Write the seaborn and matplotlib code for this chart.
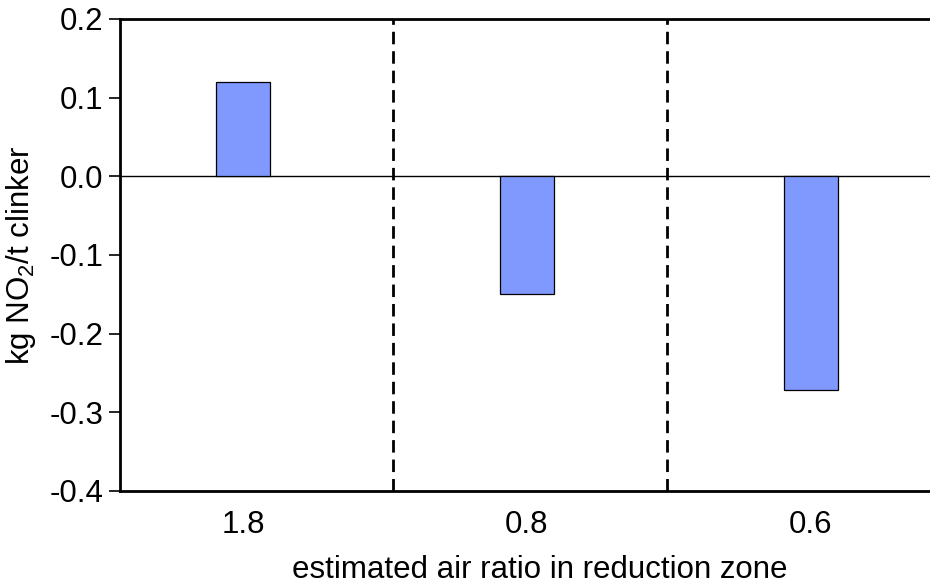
import matplotlib
matplotlib.use("Agg")
import matplotlib.pyplot as plt
import seaborn as sns
import pandas as pd
from matplotlib.ticker import FormatStrFormatter

categories = ["1.8", "0.8", "0.6"]
values = [0.12, -0.15, -0.272]
yticks = [-0.4, -0.3, -0.2, -0.1, 0.0, 0.1, 0.2]
dividers = [0.528, 1.493]

sns.set_theme(style="white")
plt.rcParams['font.family'] = ['Liberation Sans', 'DejaVu Sans']
plt.rcParams['mathtext.fontset'] = 'custom'
plt.rcParams['mathtext.rm'] = 'Liberation Sans'
plt.rcParams['mathtext.it'] = 'Liberation Sans:italic'
plt.rcParams['axes.unicode_minus'] = False
plt.rcParams['text.color'] = 'black'
plt.rcParams['axes.labelcolor'] = 'black'
plt.rcParams['xtick.color'] = 'black'
plt.rcParams['ytick.color'] = 'black'

df = pd.DataFrame({"ratio": categories, "value": values})

fig = plt.figure(figsize=(9.3, 5.88), dpi=100)
ax = fig.add_axes([0.129, 0.165, 0.871, 0.803])

sns.barplot(data=df, x="ratio", y="value", order=categories, color="#8099FF",
            saturation=1, width=0.19, edgecolor="black", linewidth=0.9, ax=ax, zorder=3)

ax.axhline(0, color="black", linewidth=1.0, zorder=2)
for d in dividers:
    ax.axvline(d, color="black", linewidth=2, linestyle=(0, (4.5, 2.5)), zorder=2)

ax.set_xlim(-0.433, 2.42)
ax.set_ylim(-0.4, 0.2)
ax.set_yticks(yticks)
ax.yaxis.set_major_formatter(FormatStrFormatter('%.1f'))

for s in ["left", "top", "bottom"]:
    ax.spines[s].set_visible(True)
    ax.spines[s].set_color("black")
    ax.spines[s].set_linewidth(2)
ax.spines["right"].set_visible(False)

ax.tick_params(axis="y", which="major", direction="out", length=8, width=1.2,
               color="black", labelcolor="black", labelsize=22.5, pad=4, left=True)
ax.tick_params(axis="x", length=0, labelsize=22.5, labelcolor="black", pad=14)

ax.set_xlabel("estimated air ratio in reduction zone", fontsize=22.5, labelpad=10, color="black")
ax.xaxis.set_label_coords(0.5 + 15 / 810, -0.135)
ax.xaxis.label.set_verticalalignment("top")
ax.set_ylabel("kg NO$_2$/t clinker", fontsize=22.5, labelpad=8, color="black")

fig.savefig("out.png", dpi=100)
